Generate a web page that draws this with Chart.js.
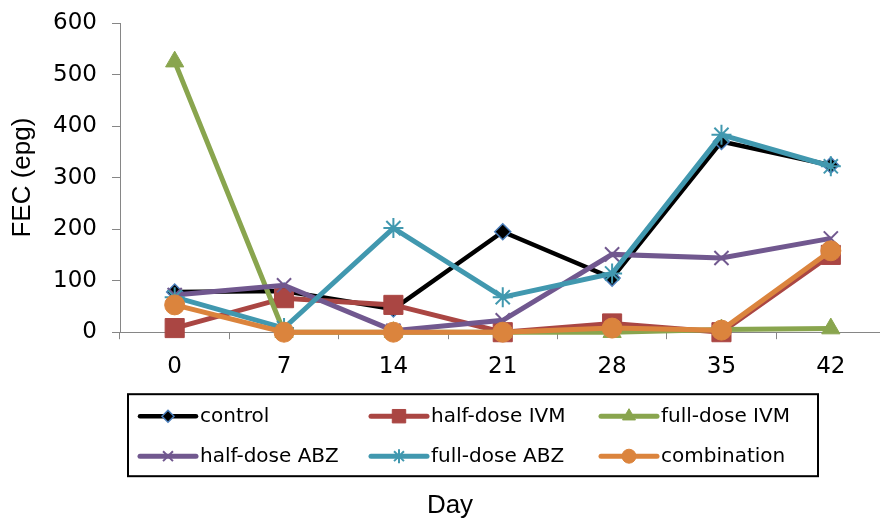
<!DOCTYPE html>
<html>
<head>
<meta charset="utf-8">
<title>FEC (epg) by Day</title>
<script src="https://cdn.jsdelivr.net/npm/chart.js@4/dist/chart.umd.min.js"></script>
<style>
  html, body { margin: 0; padding: 0; background: #fff; overflow: hidden; }
  #wrap { width: 900px; height: 521px; }
</style>
</head>
<body>
<div id="wrap"><canvas id="fecChart" width="900" height="521"></canvas></div>
<script>
// Data
const days = ['0', '7', '14', '21', '28', '35', '42'];
const yTicks = [0, 100, 200, 300, 400, 500, 600];

const seriesNames = ['control', 'half-dose IVM', 'full-dose IVM', 'half-dose ABZ', 'full-dose ABZ', 'combination'];
const control = [78, 80, 45, 195, 105, 370, 324];
const halfDoseIVM = [8, 66, 53, 0, 17, 0, 150];
const fullDoseIVM = [525, 0, 0, 0, 0, 5, 7];
const halfDoseABZ = [72, 91, 3, 23, 151, 144, 182];
const fullDoseABZ = [68, 8, 202, 68, 114, 383, 322];
const combination = [53, 0, 0, 0, 8, 4, 158];

const AXIS_GREY = '#868686';

// style of each series: line colour, marker, marker colours
const styles = [
    { color: '#000000', point: 'rectRot', radius: 8, legendRadius: 6, fill: '#000000', edge: '#4A7EBB', edgeWidth: 1.5, width: 4.5 },
    { color: '#AA4643', point: 'rect', radius: 13.5, legendRadius: 9.5, fill: '#AA4643', edge: '#AA4643', edgeWidth: 1, width: 5 },
    { color: '#89A54E', point: 'triangle', radius: 10.5, legendRadius: 7.5, fill: '#89A54E', edge: '#89A54E', edgeWidth: 1, width: 5 },
    { color: '#71588F', point: 'crossRot', radius: 10, legendRadius: 7, fill: '#71588F', edge: '#71588F', edgeWidth: 2, width: 5 },
    { color: '#4198AF', point: 'star', radius: 10, legendRadius: 7, fill: '#4198AF', edge: '#4198AF', edgeWidth: 2, width: 5 },
    { color: '#DB843D', point: 'circle', radius: 10, legendRadius: 7, fill: '#DB843D', edge: '#DB843D', edgeWidth: 1, width: 5 }
];

const seriesValues = [control, halfDoseIVM, fullDoseIVM, halfDoseABZ, fullDoseABZ, combination];

const datasets = seriesValues.map((values, i) => ({
    label: seriesNames[i],
    data: values,
    borderColor: styles[i].color,
    borderWidth: styles[i].width,
    backgroundColor: styles[i].fill,
    pointStyle: styles[i].point,
    pointRadius: styles[i].radius,
    pointBackgroundColor: styles[i].fill,
    pointBorderColor: styles[i].edge,
    pointBorderWidth: styles[i].edgeWidth,
    tension: 0,
    clip: false,
    // later series drawn on top, like Excel
    order: seriesValues.length - i
}));

/**
 * Legend drawn in a framed box below the axis, 3 columns x 2 rows.
 */
const boxedLegend = {
    id: 'boxedLegend',
    afterDraw(chart) {
        const ctx = chart.ctx;
        const area = chart.chartArea;

        const boxLeft = area.left + 8;
        const boxTop = area.bottom + 62;
        const boxWidth = 690;
        const boxHeight = 82;
        const colStarts = [boxLeft + 12, boxLeft + 243, boxLeft + 473];
        const rowYs = [boxTop + 22, boxTop + 62];

        ctx.save();
        ctx.strokeStyle = '#000';
        ctx.lineWidth = 2;
        ctx.strokeRect(boxLeft, boxTop, boxWidth, boxHeight);

        chart.data.datasets.forEach((ds, i) => {
            const st = styles[i];
            const x0 = colStarts[i % 3];
            const y = rowYs[Math.floor(i / 3)];

            // line sample
            ctx.beginPath();
            ctx.strokeStyle = st.color;
            ctx.lineWidth = st.width;
            ctx.lineCap = 'round';
            ctx.moveTo(x0, y);
            ctx.lineTo(x0 + 56, y);
            ctx.stroke();

            // marker
            ctx.fillStyle = st.fill;
            ctx.strokeStyle = st.edge;
            ctx.lineWidth = st.edgeWidth;
            ctx.lineCap = 'butt';
            Chart.helpers.drawPoint(ctx, {
                pointStyle: st.point,
                radius: st.legendRadius,
                rotation: 0,
                borderWidth: st.edgeWidth
            }, x0 + 28, y);

            // label
            ctx.fillStyle = '#000';
            ctx.font = '20px "DejaVu Sans"';
            ctx.textBaseline = 'middle';
            ctx.textAlign = 'left';
            ctx.fillText(ds.label, x0 + 60, y + 1);
        });
        ctx.restore();
    }
};

Chart.defaults.color = '#000';

const chart = new Chart(document.getElementById('fecChart'), {
    type: 'line',
    data: { labels: days, datasets: datasets },
    plugins: [boxedLegend],
    options: {
        responsive: false,
        animation: false,
        layout: { padding: { top: 23, right: 10, left: 10, bottom: 0 } },
        plugins: {
            legend: { display: false },
            tooltip: { enabled: false },
            title: {
                display: true,
                text: 'Day',
                position: 'bottom',
                color: '#000',
                font: { family: '"Liberation Sans", Arial, sans-serif', size: 26, weight: 'normal' },
                padding: { top: 95, bottom: 0 }
            }
        },
        scales: {
            x: {
                type: 'category',
                offset: true,
                border: { color: AXIS_GREY, width: 1 },
                grid: { offset: true, drawOnChartArea: false, tickLength: 7, color: AXIS_GREY },
                ticks: {
                    color: '#000',
                    padding: 14,
                    maxRotation: 0,
                    font: { family: '"DejaVu Sans"', size: 23 }
                }
            },
            y: {
                min: yTicks[0],
                max: yTicks[yTicks.length - 1],
                afterBuildTicks: scale => { scale.ticks = yTicks.map(v => ({ value: v })); },
                afterFit: scale => { scale.width = 110; },
                border: { color: AXIS_GREY, width: 1 },
                grid: { drawOnChartArea: false, tickLength: 8, color: AXIS_GREY },
                ticks: {
                    color: '#000',
                    padding: 15,
                    font: { family: '"DejaVu Sans"', size: 23, lineHeight: 0.6 }
                },
                title: {
                    display: true,
                    text: 'FEC (epg)',
                    color: '#000',
                    padding: { top: 0, bottom: 0 },
                    font: { family: '"Liberation Sans", Arial, sans-serif', size: 26, lineHeight: 1.0 }
                }
            }
        }
    }
});
</script>
</body>
</html>
